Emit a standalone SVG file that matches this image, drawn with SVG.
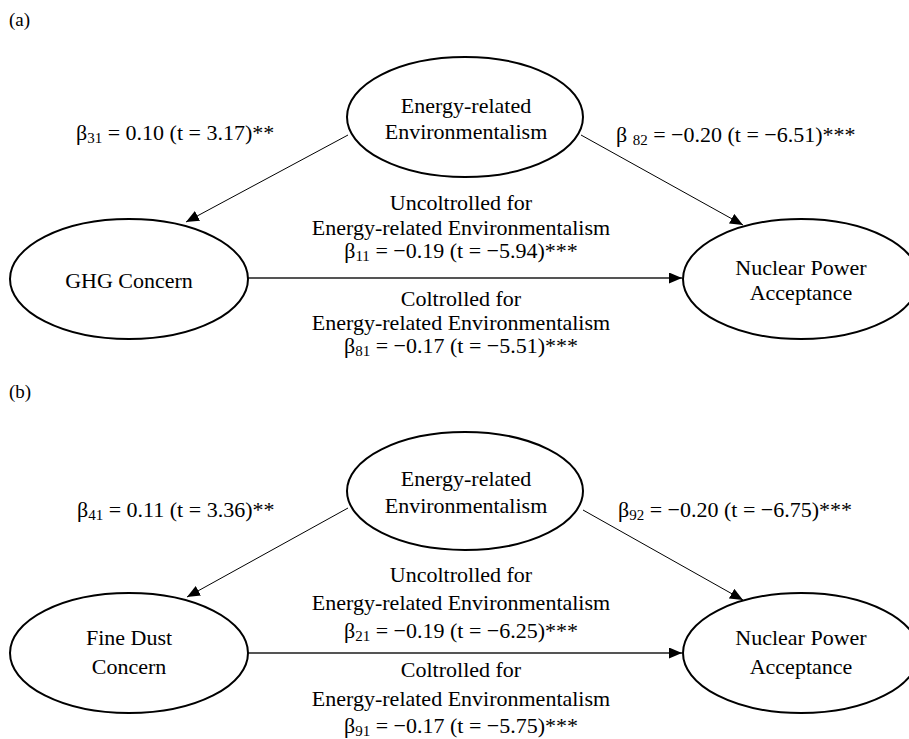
<svg xmlns="http://www.w3.org/2000/svg" width="909" height="739" viewBox="0 0 909 739">
<style>
text{font-family:"Liberation Serif","Times New Roman",serif;font-size:22px;fill:#000}
.c{text-anchor:middle}
.pl{font-size:19px}
.node ellipse{fill:#fff;stroke:#000;stroke-width:2}
.diag{stroke:#000;stroke-width:1;fill:none}
.hor{stroke:#555;stroke-width:2;fill:none}
.sub{font-size:15px}
</style>
<defs>
<marker id="ah" markerWidth="14" markerHeight="12" refX="13" refY="5.5" orient="auto" markerUnits="userSpaceOnUse">
<path d="M0,0 L13,5.5 L0,11 z" fill="#000"/>
</marker>
</defs>
<rect width="909" height="739" fill="#fff"/>
<text class="pl" x="9" y="26">(a)</text>
<text class="pl" x="9" y="398">(b)</text>
<g id="connectors">
<line class="diag" x1="348" y1="135" x2="186" y2="222" marker-end="url(#ah)"/>
<line class="diag" x1="581" y1="135" x2="743" y2="225" marker-end="url(#ah)"/>
<line class="hor" x1="248" y1="278" x2="682" y2="278" marker-end="url(#ah)"/>
<line class="diag" x1="348" y1="508" x2="187" y2="597" marker-end="url(#ah)"/>
<line class="diag" x1="583" y1="510" x2="743" y2="600" marker-end="url(#ah)"/>
<line class="hor" x1="248" y1="653" x2="682" y2="653" marker-end="url(#ah)"/>
</g>
<g id="a-env" class="node">
<ellipse cx="465" cy="117" rx="118" ry="60"/>
<text class="c" x="466" y="113">Energy-related</text>
<text class="c" x="466" y="139">Environmentalism</text>
</g>
<g id="a-ghg" class="node">
<ellipse cx="129" cy="279" rx="119" ry="60"/>
<text class="c" x="129" y="288">GHG Concern</text>
</g>
<g id="a-npa" class="node">
<ellipse cx="801" cy="279" rx="118" ry="60"/>
<text class="c" x="801" y="275">Nuclear Power</text>
<text class="c" x="801" y="300">Acceptance</text>
</g>
<g id="a-labels">
<text x="76" y="140">β<tspan class="sub" dy="3">31</tspan><tspan dy="-3"> = 0.10 (t = 3.17)**</tspan></text>
<text x="616" y="142">β <tspan class="sub" dy="3">82</tspan><tspan dy="-3"> = −0.20 (t = −6.51)***</tspan></text>
<text class="c" x="461" y="210">Uncoltrolled for</text>
<text class="c" x="461" y="235">Energy-related Environmentalism</text>
<text class="c" x="461" y="258">β<tspan class="sub" dy="3">11</tspan><tspan dy="-3"> = −0.19 (t = −5.94)***</tspan></text>
<text class="c" x="461" y="306">Coltrolled for</text>
<text class="c" x="461" y="330">Energy-related Environmentalism</text>
<text class="c" x="461" y="353">β<tspan class="sub" dy="3">81</tspan><tspan dy="-3"> = −0.17 (t = −5.51)***</tspan></text>
</g>
<g id="b-env" class="node">
<ellipse cx="465" cy="491" rx="118" ry="59"/>
<text class="c" x="466" y="486">Energy-related</text>
<text class="c" x="466" y="513">Environmentalism</text>
</g>
<g id="b-fd" class="node">
<ellipse cx="129" cy="653" rx="119" ry="60"/>
<text class="c" x="129" y="645">Fine Dust</text>
<text class="c" x="129" y="674">Concern</text>
</g>
<g id="b-npa" class="node">
<ellipse cx="801" cy="653" rx="118" ry="60"/>
<text class="c" x="801" y="645">Nuclear Power</text>
<text class="c" x="801" y="674">Acceptance</text>
</g>
<g id="b-labels">
<text x="77" y="517">β<tspan class="sub" dy="3">41</tspan><tspan dy="-3"> = 0.11 (t = 3.36)**</tspan></text>
<text x="618" y="517">β<tspan class="sub" dy="3">92</tspan><tspan dy="-3"> = −0.20 (t = −6.75)***</tspan></text>
<text class="c" x="461" y="582">Uncoltrolled for</text>
<text class="c" x="461" y="610">Energy-related Environmentalism</text>
<text class="c" x="461" y="638">β<tspan class="sub" dy="3">21</tspan><tspan dy="-3"> = −0.19 (t = −6.25)***</tspan></text>
<text class="c" x="461" y="677">Coltrolled for</text>
<text class="c" x="461" y="706">Energy-related Environmentalism</text>
<text class="c" x="461" y="733">β<tspan class="sub" dy="3">91</tspan><tspan dy="-3"> = −0.17 (t = −5.75)***</tspan></text>
</g>
</svg>
